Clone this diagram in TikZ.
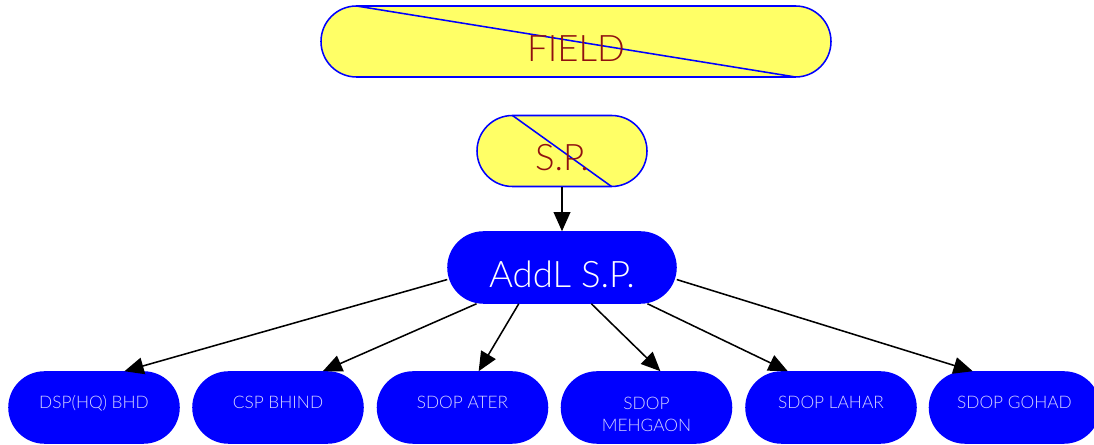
\documentclass[tikz,border=0pt]{standalone}
\usepackage{fontspec}
\setmainfont{Lato}[UprightFont={* Light}]
\usetikzlibrary{graphs,arrows.meta}

\definecolor{fieldyellow}{RGB}{255,255,102}
\definecolor{fieldred}{RGB}{144,16,16}
\definecolor{boxblue}{RGB}{0,0,255}
\definecolor{boxtext}{RGB}{215,215,255}

\tikzset{
  roundbox/.style={draw=boxblue,rounded corners=0.8875cm,minimum height=1.775cm,inner sep=0pt},
  topbox/.style={roundbox,fill=fieldyellow,text=fieldred,
    font=\fontsize{26}{31}\selectfont,text height=27.8pt,text depth=0pt,
    path picture={\draw[boxblue]
      ([xshift=0.8875cm]path picture bounding box.north west) --
      ([xshift=-0.8875cm]path picture bounding box.south east);}},
  addlbox/.style={roundbox,fill=boxblue,text=white,minimum width=5.7cm,
    font=\fontsize{26}{31}\selectfont,text height=27.8pt,text depth=0pt},
  officebox/.style={roundbox,fill=boxblue,text=boxtext,minimum width=4.25cm,align=center,
    font=\fontsize{12.3}{15.6}\selectfont,text height=9pt,text depth=7pt}
}

\begin{document}
\begin{tikzpicture}[line width=1.1pt,>={Triangle[length=0.48cm,width=0.42cm]}]
\useasboundingbox (0,0) rectangle (27.35,-11.125);
\graph [no placement]
{
    FIELD[x=14.4000,y=- 1.0375,topbox,minimum width=12.75cm],
       SP[x=14.0500,y=- 3.7750,topbox,minimum width=4.25cm,as=S.P.],
     AddL[x=14.0500,y=- 6.6875,addlbox,as=AddL S.P.],

    DSPHQ[x= 2.3500,y=-10.1875,officebox,as={DSP(HQ) BHD}],
      CSP[x= 6.9500,y=-10.1875,officebox,as={CSP BHIND}],
     Ater[x=11.5625,y=-10.1875,officebox,as={SDOP ATER}],
  Mehgaon[x=16.1625,y=-10.1875,officebox,text height=34pt,text depth=0pt,as={SDOP\\MEHGAON}],
    Lahar[x=20.7750,y=-10.1875,officebox,as={SDOP LAHAR}],
    Gohad[x=25.3625,y=-10.1875,officebox,as={SDOP GOHAD}],

  SP -> AddL
};
% AddL S.P. fans out to the six offices
\foreach \office/\src/\dst in {DSPHQ/186/50,CSP/203/39,Ater/220/66,Mehgaon/309/69,Lahar/337/140.5,Gohad/354/139.5}
  \draw[->] (AddL.\src) -- (\office.\dst);
\end{tikzpicture}
\end{document}
